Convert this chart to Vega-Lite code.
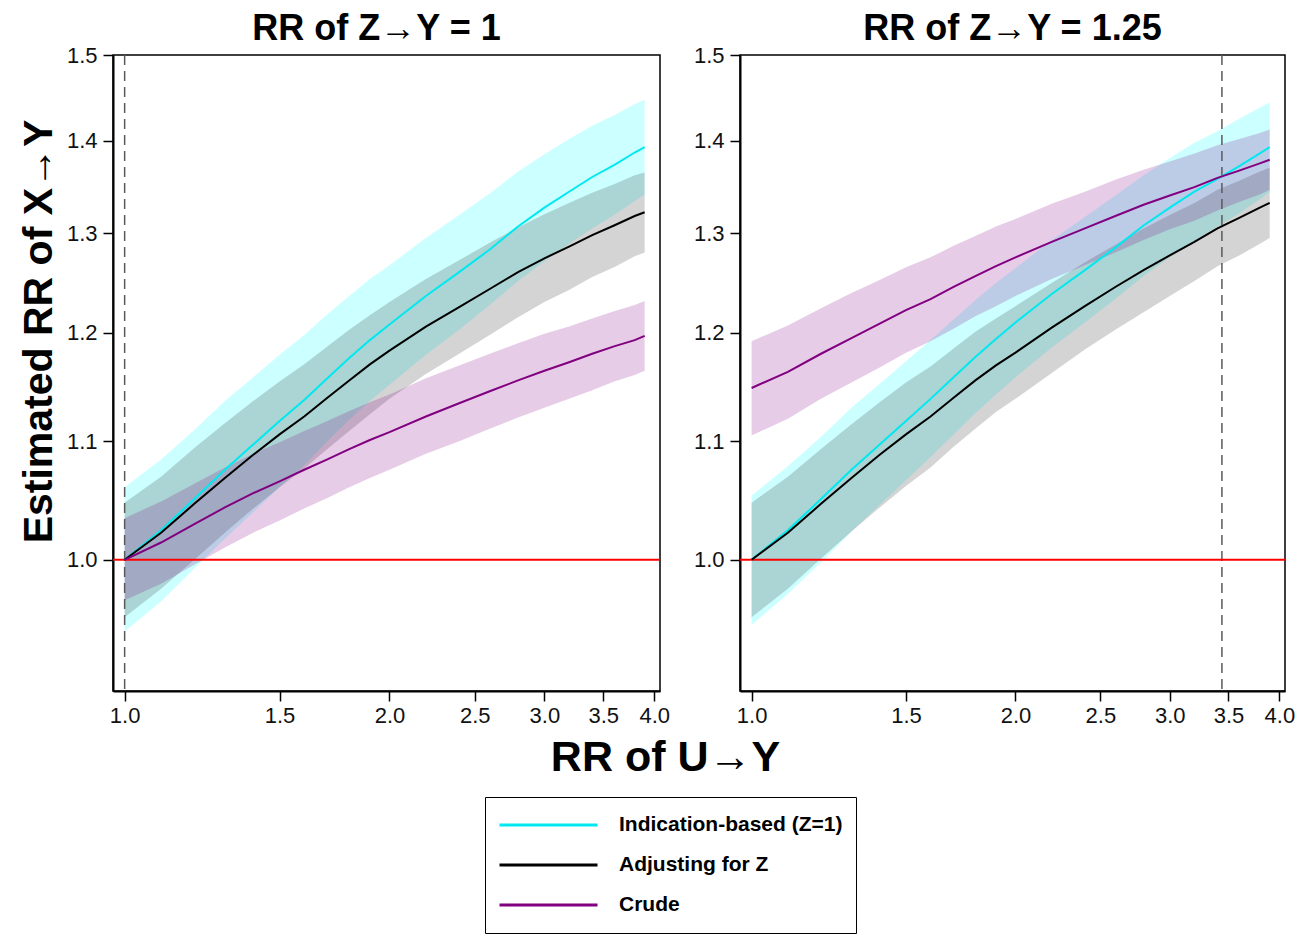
{
  "$schema": "https://vega.github.io/schema/vega-lite/v6.json",
  "background": "white",
  "padding": {"left": 17, "top": 10, "right": 5, "bottom": 5},
  "bounds": "flush",
  "spacing": 80,
  "config": {
    "font": "Liberation Sans",
    "view": {"stroke": "black", "strokeWidth": 1.5},
    "axis": {"grid": false, "domainColor": "black", "domainWidth": 2, "tickColor": "black", "tickWidth": 1.5, "tickSize": 10, "labelFontSize": 22, "labelColor": "#111111", "labelFont": "Liberation Sans", "titleFont": "Liberation Sans", "titleColor": "black", "titleFontWeight": "bold", "labelPadding": 4},
    "axisY": {"labelPadding": 6},
    "title": {"font": "Liberation Sans", "fontSize": 36, "fontWeight": "bold", "color": "black", "frame": "group", "anchor": "middle", "offset": -4}
  },
  "datasets": {
    "refs": [
      {"p": 1, "xr": 1.0, "yr": 1.0},
      {"p": 2, "xr": 3.44, "yr": 1.0}
    ],
    "curves": [
      {"p":1,"s":"Indication-based (Z=1)","x":1.0,"y":1.000,"lo":0.944,"hi":1.060},
      {"p":1,"s":"Indication-based (Z=1)","x":1.1,"y":1.024,"lo":0.967,"hi":1.084},
      {"p":1,"s":"Indication-based (Z=1)","x":1.2,"y":1.050,"lo":0.993,"hi":1.110},
      {"p":1,"s":"Indication-based (Z=1)","x":1.3,"y":1.075,"lo":1.017,"hi":1.136},
      {"p":1,"s":"Indication-based (Z=1)","x":1.4,"y":1.097,"lo":1.039,"hi":1.158},
      {"p":1,"s":"Indication-based (Z=1)","x":1.5,"y":1.118,"lo":1.060,"hi":1.179},
      {"p":1,"s":"Indication-based (Z=1)","x":1.6,"y":1.137,"lo":1.079,"hi":1.198},
      {"p":1,"s":"Indication-based (Z=1)","x":1.7,"y":1.157,"lo":1.100,"hi":1.218},
      {"p":1,"s":"Indication-based (Z=1)","x":1.8,"y":1.176,"lo":1.119,"hi":1.236},
      {"p":1,"s":"Indication-based (Z=1)","x":1.9,"y":1.193,"lo":1.136,"hi":1.253},
      {"p":1,"s":"Indication-based (Z=1)","x":2.0,"y":1.208,"lo":1.151,"hi":1.267},
      {"p":1,"s":"Indication-based (Z=1)","x":2.2,"y":1.236,"lo":1.179,"hi":1.295},
      {"p":1,"s":"Indication-based (Z=1)","x":2.4,"y":1.260,"lo":1.203,"hi":1.319},
      {"p":1,"s":"Indication-based (Z=1)","x":2.6,"y":1.283,"lo":1.227,"hi":1.342},
      {"p":1,"s":"Indication-based (Z=1)","x":2.8,"y":1.307,"lo":1.251,"hi":1.366},
      {"p":1,"s":"Indication-based (Z=1)","x":3.0,"y":1.327,"lo":1.271,"hi":1.385},
      {"p":1,"s":"Indication-based (Z=1)","x":3.2,"y":1.344,"lo":1.289,"hi":1.402},
      {"p":1,"s":"Indication-based (Z=1)","x":3.4,"y":1.360,"lo":1.305,"hi":1.417},
      {"p":1,"s":"Indication-based (Z=1)","x":3.6,"y":1.373,"lo":1.319,"hi":1.429},
      {"p":1,"s":"Indication-based (Z=1)","x":3.8,"y":1.387,"lo":1.334,"hi":1.442},
      {"p":1,"s":"Indication-based (Z=1)","x":3.9,"y":1.393,"lo":1.341,"hi":1.447},
      {"p":1,"s":"Adjusting for Z","x":1.0,"y":1.000,"lo":0.955,"hi":1.047},
      {"p":1,"s":"Adjusting for Z","x":1.1,"y":1.022,"lo":0.977,"hi":1.069},
      {"p":1,"s":"Adjusting for Z","x":1.2,"y":1.046,"lo":1.000,"hi":1.094},
      {"p":1,"s":"Adjusting for Z","x":1.3,"y":1.068,"lo":1.022,"hi":1.116},
      {"p":1,"s":"Adjusting for Z","x":1.4,"y":1.088,"lo":1.042,"hi":1.136},
      {"p":1,"s":"Adjusting for Z","x":1.5,"y":1.106,"lo":1.060,"hi":1.154},
      {"p":1,"s":"Adjusting for Z","x":1.6,"y":1.122,"lo":1.076,"hi":1.170},
      {"p":1,"s":"Adjusting for Z","x":1.7,"y":1.139,"lo":1.093,"hi":1.187},
      {"p":1,"s":"Adjusting for Z","x":1.8,"y":1.155,"lo":1.109,"hi":1.203},
      {"p":1,"s":"Adjusting for Z","x":1.9,"y":1.170,"lo":1.124,"hi":1.217},
      {"p":1,"s":"Adjusting for Z","x":2.0,"y":1.183,"lo":1.138,"hi":1.230},
      {"p":1,"s":"Adjusting for Z","x":2.2,"y":1.206,"lo":1.161,"hi":1.253},
      {"p":1,"s":"Adjusting for Z","x":2.4,"y":1.225,"lo":1.180,"hi":1.272},
      {"p":1,"s":"Adjusting for Z","x":2.6,"y":1.243,"lo":1.198,"hi":1.290},
      {"p":1,"s":"Adjusting for Z","x":2.8,"y":1.260,"lo":1.215,"hi":1.306},
      {"p":1,"s":"Adjusting for Z","x":3.0,"y":1.274,"lo":1.230,"hi":1.320},
      {"p":1,"s":"Adjusting for Z","x":3.2,"y":1.286,"lo":1.242,"hi":1.332},
      {"p":1,"s":"Adjusting for Z","x":3.4,"y":1.298,"lo":1.255,"hi":1.343},
      {"p":1,"s":"Adjusting for Z","x":3.6,"y":1.308,"lo":1.265,"hi":1.352},
      {"p":1,"s":"Adjusting for Z","x":3.8,"y":1.318,"lo":1.276,"hi":1.362},
      {"p":1,"s":"Adjusting for Z","x":3.9,"y":1.322,"lo":1.280,"hi":1.365},
      {"p":1,"s":"Crude","x":1.0,"y":1.000,"lo":0.968,"hi":1.034},
      {"p":1,"s":"Crude","x":1.1,"y":1.014,"lo":0.981,"hi":1.048},
      {"p":1,"s":"Crude","x":1.2,"y":1.029,"lo":0.996,"hi":1.063},
      {"p":1,"s":"Crude","x":1.3,"y":1.043,"lo":1.010,"hi":1.077},
      {"p":1,"s":"Crude","x":1.4,"y":1.055,"lo":1.022,"hi":1.089},
      {"p":1,"s":"Crude","x":1.5,"y":1.065,"lo":1.032,"hi":1.099},
      {"p":1,"s":"Crude","x":1.6,"y":1.075,"lo":1.042,"hi":1.109},
      {"p":1,"s":"Crude","x":1.7,"y":1.084,"lo":1.051,"hi":1.118},
      {"p":1,"s":"Crude","x":1.8,"y":1.093,"lo":1.060,"hi":1.127},
      {"p":1,"s":"Crude","x":1.9,"y":1.101,"lo":1.068,"hi":1.135},
      {"p":1,"s":"Crude","x":2.0,"y":1.108,"lo":1.075,"hi":1.142},
      {"p":1,"s":"Crude","x":2.2,"y":1.122,"lo":1.089,"hi":1.157},
      {"p":1,"s":"Crude","x":2.4,"y":1.134,"lo":1.100,"hi":1.169},
      {"p":1,"s":"Crude","x":2.6,"y":1.145,"lo":1.111,"hi":1.180},
      {"p":1,"s":"Crude","x":2.8,"y":1.155,"lo":1.121,"hi":1.190},
      {"p":1,"s":"Crude","x":3.0,"y":1.164,"lo":1.130,"hi":1.199},
      {"p":1,"s":"Crude","x":3.2,"y":1.172,"lo":1.138,"hi":1.206},
      {"p":1,"s":"Crude","x":3.4,"y":1.180,"lo":1.146,"hi":1.214},
      {"p":1,"s":"Crude","x":3.6,"y":1.187,"lo":1.154,"hi":1.221},
      {"p":1,"s":"Crude","x":3.8,"y":1.193,"lo":1.160,"hi":1.227},
      {"p":1,"s":"Crude","x":3.9,"y":1.197,"lo":1.164,"hi":1.231},
      {"p":2,"s":"Indication-based (Z=1)","x":1.0,"y":1.000,"lo":0.949,"hi":1.053},
      {"p":2,"s":"Indication-based (Z=1)","x":1.1,"y":1.024,"lo":0.973,"hi":1.078},
      {"p":2,"s":"Indication-based (Z=1)","x":1.2,"y":1.050,"lo":0.998,"hi":1.104},
      {"p":2,"s":"Indication-based (Z=1)","x":1.3,"y":1.075,"lo":1.023,"hi":1.130},
      {"p":2,"s":"Indication-based (Z=1)","x":1.4,"y":1.097,"lo":1.045,"hi":1.152},
      {"p":2,"s":"Indication-based (Z=1)","x":1.5,"y":1.118,"lo":1.066,"hi":1.173},
      {"p":2,"s":"Indication-based (Z=1)","x":1.6,"y":1.138,"lo":1.086,"hi":1.193},
      {"p":2,"s":"Indication-based (Z=1)","x":1.7,"y":1.158,"lo":1.106,"hi":1.213},
      {"p":2,"s":"Indication-based (Z=1)","x":1.8,"y":1.177,"lo":1.125,"hi":1.232},
      {"p":2,"s":"Indication-based (Z=1)","x":1.9,"y":1.194,"lo":1.142,"hi":1.249},
      {"p":2,"s":"Indication-based (Z=1)","x":2.0,"y":1.210,"lo":1.158,"hi":1.264},
      {"p":2,"s":"Indication-based (Z=1)","x":2.2,"y":1.238,"lo":1.186,"hi":1.293},
      {"p":2,"s":"Indication-based (Z=1)","x":2.4,"y":1.262,"lo":1.210,"hi":1.317},
      {"p":2,"s":"Indication-based (Z=1)","x":2.6,"y":1.285,"lo":1.233,"hi":1.340},
      {"p":2,"s":"Indication-based (Z=1)","x":2.8,"y":1.308,"lo":1.256,"hi":1.362},
      {"p":2,"s":"Indication-based (Z=1)","x":3.0,"y":1.327,"lo":1.275,"hi":1.381},
      {"p":2,"s":"Indication-based (Z=1)","x":3.2,"y":1.344,"lo":1.292,"hi":1.398},
      {"p":2,"s":"Indication-based (Z=1)","x":3.4,"y":1.358,"lo":1.307,"hi":1.411},
      {"p":2,"s":"Indication-based (Z=1)","x":3.6,"y":1.372,"lo":1.321,"hi":1.425},
      {"p":2,"s":"Indication-based (Z=1)","x":3.8,"y":1.386,"lo":1.336,"hi":1.438},
      {"p":2,"s":"Indication-based (Z=1)","x":3.9,"y":1.393,"lo":1.344,"hi":1.444},
      {"p":2,"s":"Adjusting for Z","x":1.0,"y":1.000,"lo":0.955,"hi":1.047},
      {"p":2,"s":"Adjusting for Z","x":1.1,"y":1.022,"lo":0.977,"hi":1.069},
      {"p":2,"s":"Adjusting for Z","x":1.2,"y":1.046,"lo":1.001,"hi":1.093},
      {"p":2,"s":"Adjusting for Z","x":1.3,"y":1.068,"lo":1.023,"hi":1.115},
      {"p":2,"s":"Adjusting for Z","x":1.4,"y":1.088,"lo":1.043,"hi":1.135},
      {"p":2,"s":"Adjusting for Z","x":1.5,"y":1.106,"lo":1.061,"hi":1.153},
      {"p":2,"s":"Adjusting for Z","x":1.6,"y":1.122,"lo":1.077,"hi":1.168},
      {"p":2,"s":"Adjusting for Z","x":1.7,"y":1.139,"lo":1.095,"hi":1.185},
      {"p":2,"s":"Adjusting for Z","x":1.8,"y":1.155,"lo":1.111,"hi":1.201},
      {"p":2,"s":"Adjusting for Z","x":1.9,"y":1.169,"lo":1.126,"hi":1.214},
      {"p":2,"s":"Adjusting for Z","x":2.0,"y":1.181,"lo":1.138,"hi":1.226},
      {"p":2,"s":"Adjusting for Z","x":2.2,"y":1.205,"lo":1.162,"hi":1.249},
      {"p":2,"s":"Adjusting for Z","x":2.4,"y":1.226,"lo":1.184,"hi":1.270},
      {"p":2,"s":"Adjusting for Z","x":2.6,"y":1.245,"lo":1.203,"hi":1.288},
      {"p":2,"s":"Adjusting for Z","x":2.8,"y":1.262,"lo":1.220,"hi":1.305},
      {"p":2,"s":"Adjusting for Z","x":3.0,"y":1.277,"lo":1.236,"hi":1.319},
      {"p":2,"s":"Adjusting for Z","x":3.2,"y":1.291,"lo":1.251,"hi":1.332},
      {"p":2,"s":"Adjusting for Z","x":3.4,"y":1.305,"lo":1.266,"hi":1.346},
      {"p":2,"s":"Adjusting for Z","x":3.6,"y":1.316,"lo":1.277,"hi":1.356},
      {"p":2,"s":"Adjusting for Z","x":3.8,"y":1.327,"lo":1.289,"hi":1.366},
      {"p":2,"s":"Adjusting for Z","x":3.9,"y":1.332,"lo":1.295,"hi":1.370},
      {"p":2,"s":"Crude","x":1.0,"y":1.148,"lo":1.105,"hi":1.192},
      {"p":2,"s":"Crude","x":1.1,"y":1.163,"lo":1.120,"hi":1.207},
      {"p":2,"s":"Crude","x":1.2,"y":1.180,"lo":1.138,"hi":1.224},
      {"p":2,"s":"Crude","x":1.3,"y":1.195,"lo":1.153,"hi":1.239},
      {"p":2,"s":"Crude","x":1.4,"y":1.209,"lo":1.167,"hi":1.252},
      {"p":2,"s":"Crude","x":1.5,"y":1.222,"lo":1.181,"hi":1.265},
      {"p":2,"s":"Crude","x":1.6,"y":1.233,"lo":1.192,"hi":1.275},
      {"p":2,"s":"Crude","x":1.7,"y":1.245,"lo":1.204,"hi":1.287},
      {"p":2,"s":"Crude","x":1.8,"y":1.256,"lo":1.216,"hi":1.297},
      {"p":2,"s":"Crude","x":1.9,"y":1.266,"lo":1.226,"hi":1.307},
      {"p":2,"s":"Crude","x":2.0,"y":1.275,"lo":1.236,"hi":1.315},
      {"p":2,"s":"Crude","x":2.2,"y":1.291,"lo":1.253,"hi":1.331},
      {"p":2,"s":"Crude","x":2.4,"y":1.305,"lo":1.267,"hi":1.344},
      {"p":2,"s":"Crude","x":2.6,"y":1.318,"lo":1.280,"hi":1.357},
      {"p":2,"s":"Crude","x":2.8,"y":1.330,"lo":1.293,"hi":1.368},
      {"p":2,"s":"Crude","x":3.0,"y":1.340,"lo":1.304,"hi":1.377},
      {"p":2,"s":"Crude","x":3.2,"y":1.349,"lo":1.313,"hi":1.386},
      {"p":2,"s":"Crude","x":3.4,"y":1.359,"lo":1.324,"hi":1.395},
      {"p":2,"s":"Crude","x":3.6,"y":1.367,"lo":1.333,"hi":1.402},
      {"p":2,"s":"Crude","x":3.8,"y":1.375,"lo":1.341,"hi":1.409},
      {"p":2,"s":"Crude","x":3.9,"y":1.379,"lo":1.346,"hi":1.413}
    ]
  },
  "hconcat": [
    {
      "width": 547,
      "height": 636,
      "title": {"text": "RR of Z→Y = 1", "dx": -10},
      "layer": [
        {
          "data": {"name": "curves"},
          "transform": [{"filter": "datum.p == 1"}],
          "mark": {"type": "area", "fillOpacity": 0.2},
          "encoding": {
            "x": {"field": "x", "type": "quantitative", "scale": {"type": "log", "domain": [0.97, 4.06], "nice": false, "zero": false},
                  "axis": {"values": [1, 1.5, 2, 2.5, 3, 3.5, 4], "format": ".1f", "title": "RR of U→Y", "titleFontSize": 43, "titleX": 552, "titleY": 45, "titleBaseline": "top"}},
            "y": {"field": "lo", "type": "quantitative", "scale": {"type": "log", "domain": [0.9, 1.5], "nice": false, "zero": false},
                  "axis": {"values": [1.0, 1.1, 1.2, 1.3, 1.4, 1.5], "format": ".1f", "title": "Estimated RR of X→Y", "titleFontSize": 41, "titleX": -53, "titleY": 276, "titleBaseline": "bottom"}},
            "y2": {"field": "hi"},
            "fill": {"field": "s", "type": "nominal", "scale": {"domain": ["Indication-based (Z=1)", "Adjusting for Z", "Crude"], "range": ["#00FFFF", "#2a2a2a", "#800080"]},
                     "legend": {"orient": "none", "legendX": 372, "legendY": 742, "title": null, "strokeColor": "black", "fillColor": "white", "padding": 13, "labelFontSize": 21, "labelFontWeight": "bold", "labelColor": "black", "labelFont": "Liberation Sans", "labelLimit": 0, "symbolType": "stroke", "symbolSize": 9604, "symbolStrokeWidth": 3, "symbolOpacity": 1, "labelOffset": 20, "rowPadding": 10, "clipHeight": 30,
                                "encode": {"symbols": {"update": {"opacity": {"value": 1}, "strokeOpacity": {"value": 1}}}}}}
          }
        },
        {
          "data": {"name": "refs"},
          "transform": [{"filter": "datum.p == 1"}],
          "mark": {"type": "rule", "color": "#5a5a5a", "strokeWidth": 1.5, "strokeDash": [10, 6]},
          "encoding": {"x": {"field": "xr", "type": "quantitative"}}
        },
        {
          "data": {"name": "refs"},
          "transform": [{"filter": "datum.p == 1"}],
          "mark": {"type": "rule", "color": "#FF0000", "strokeWidth": 2},
          "encoding": {"y": {"field": "yr", "type": "quantitative"}}
        },
        {
          "data": {"name": "curves"},
          "transform": [{"filter": "datum.p == 1"}],
          "mark": {"type": "line", "strokeWidth": 2},
          "encoding": {
            "x": {"field": "x", "type": "quantitative"},
            "y": {"field": "y", "type": "quantitative"},
            "stroke": {"field": "s", "type": "nominal",
                       "scale": {"domain": ["Indication-based (Z=1)", "Adjusting for Z", "Crude"], "range": ["#00E8F0", "#000000", "#800080"]},
                       "legend": {"orient": "none", "legendX": 372, "legendY": 742, "title": null, "strokeColor": "black", "fillColor": "white", "padding": 13, "labelFontSize": 21, "labelFontWeight": "bold", "labelColor": "black", "labelFont": "Liberation Sans", "labelLimit": 0, "symbolType": "stroke", "symbolSize": 9604, "symbolStrokeWidth": 3, "symbolOpacity": 1, "labelOffset": 20, "rowPadding": 10, "clipHeight": 30,
                                  "encode": {"symbols": {"update": {"opacity": {"value": 1}, "strokeOpacity": {"value": 1}}}}}}
          }
        }
      ]
    },
    {
      "width": 545,
      "height": 636,
      "title": {"text": "RR of Z→Y = 1.25"},
      "layer": [
        {
          "data": {"name": "curves"},
          "transform": [{"filter": "datum.p == 2"}],
          "mark": {"type": "area", "fillOpacity": 0.2},
          "encoding": {
            "x": {"field": "x", "type": "quantitative", "scale": {"type": "log", "domain": [0.97, 4.06], "nice": false, "zero": false},
                  "axis": {"values": [1, 1.5, 2, 2.5, 3, 3.5, 4], "format": ".1f", "title": null}},
            "y": {"field": "lo", "type": "quantitative", "scale": {"type": "log", "domain": [0.9, 1.5], "nice": false, "zero": false},
                  "axis": {"values": [1.0, 1.1, 1.2, 1.3, 1.4, 1.5], "format": ".1f", "title": null}},
            "y2": {"field": "hi"},
            "fill": {"field": "s", "type": "nominal", "scale": {"domain": ["Indication-based (Z=1)", "Adjusting for Z", "Crude"], "range": ["#00FFFF", "#2a2a2a", "#800080"]}}
          }
        },
        {
          "data": {"name": "refs"},
          "transform": [{"filter": "datum.p == 2"}],
          "mark": {"type": "rule", "color": "#5a5a5a", "strokeWidth": 1.5, "strokeDash": [10, 6]},
          "encoding": {"x": {"field": "xr", "type": "quantitative"}}
        },
        {
          "data": {"name": "refs"},
          "transform": [{"filter": "datum.p == 2"}],
          "mark": {"type": "rule", "color": "#FF0000", "strokeWidth": 2},
          "encoding": {"y": {"field": "yr", "type": "quantitative"}}
        },
        {
          "data": {"name": "curves"},
          "transform": [{"filter": "datum.p == 2"}],
          "mark": {"type": "line", "strokeWidth": 2},
          "encoding": {
            "x": {"field": "x", "type": "quantitative"},
            "y": {"field": "y", "type": "quantitative"},
            "stroke": {"field": "s", "type": "nominal",
                       "scale": {"domain": ["Indication-based (Z=1)", "Adjusting for Z", "Crude"], "range": ["#00E8F0", "#000000", "#800080"]}}
          }
        }
      ]
    }
  ]
}
